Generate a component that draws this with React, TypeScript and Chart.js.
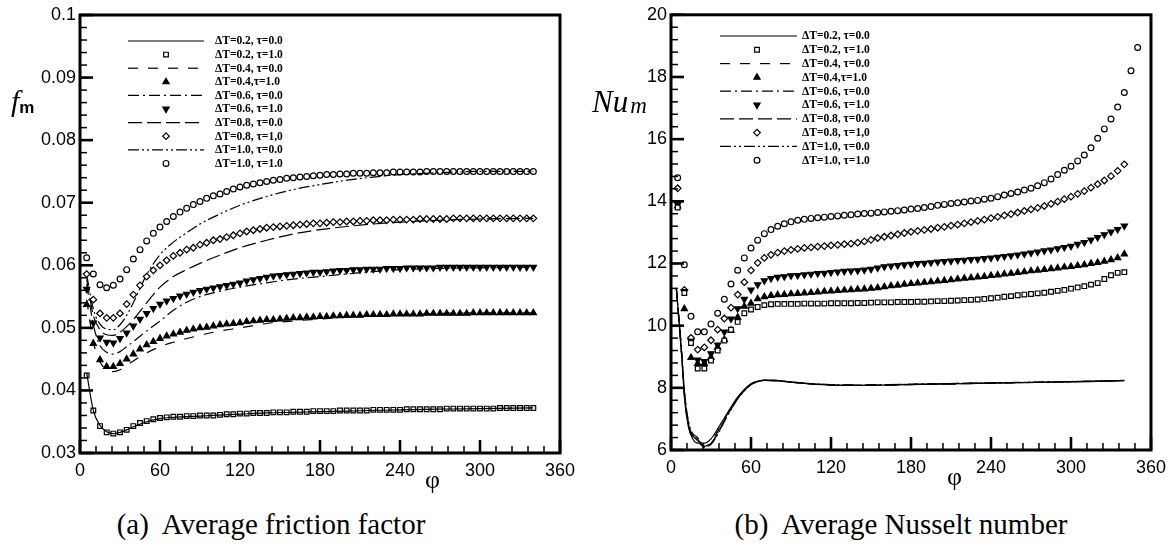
import React, { useEffect, useRef } from 'react';
import { Chart, registerables } from 'chart.js';

Chart.register(...registerables);

// ---------- shared x positions (degrees) ----------
const PHI_MARK = [5, 10, 15, 20, 25, 30, 35, 40, 45, 50, 55, 60, 65, 70, 75, 80, 85, 90, 95, 100, 105, 110, 115, 120, 125, 130, 135, 140, 145, 150, 155, 160, 165, 170, 175, 180, 185, 190, 195, 200, 205, 210, 215, 220, 225, 230, 235, 240, 245, 250, 255, 260, 265, 270, 275, 280, 285, 290, 295, 300, 305, 310, 315, 320, 325, 330, 335, 340];
const PHI_MARK_EXT = [5, 10, 15, 20, 25, 30, 35, 40, 45, 50, 55, 60, 65, 70, 75, 80, 85, 90, 95, 100, 105, 110, 115, 120, 125, 130, 135, 140, 145, 150, 155, 160, 165, 170, 175, 180, 185, 190, 195, 200, 205, 210, 215, 220, 225, 230, 235, 240, 245, 250, 255, 260, 265, 270, 275, 280, 285, 290, 295, 300, 305, 310, 315, 320, 325, 330, 335, 340, 345, 350];
const PHI_LINE_A = [5, 10, 15, 20, 25, 30, 35, 40, 50, 60, 70, 80, 90, 100, 120, 140, 160, 180, 200, 220, 240, 270, 300, 340];
const PHI_LINE_B = [4, 8, 10, 13, 16, 20, 25, 30, 35, 40, 45, 50, 55, 60, 65, 70, 80, 90, 100, 120, 140, 160, 200, 240, 280, 320, 340];

const X_TICKS = [0, 60, 120, 180, 240, 300, 360];
const X_TICK_LABELS = ['0', '60', '120', '180', '240', '300', '360'];
const Y_TICKS_A = [0.03, 0.04, 0.05, 0.06, 0.07, 0.08, 0.09, 0.1];
const Y_TICK_LABELS_A = ['0.03', '0.04', '0.05', '0.06', '0.07', '0.08', '0.09', '0.1'];
const Y_TICKS_B = [6, 8, 10, 12, 14, 16, 18, 20];
const Y_TICK_LABELS_B = ['6', '8', '10', '12', '14', '16', '18', '20'];

const LEGEND_LABELS = [
  'ΔT=0.2, τ=0.0', 'ΔT=0.2, τ=1.0', 'ΔT=0.4, τ=0.0', 'ΔT=0.4,τ=1.0', 'ΔT=0.6, τ=0.0',
  'ΔT=0.6, τ=1.0', 'ΔT=0.8, τ=0.0', 'ΔT=0.8, τ=1,0', 'ΔT=1.0, τ=0.0', 'ΔT=1.0, τ=1.0',
];

// ---------- (a) friction factor: τ=0 lines ----------
const FA_L02 = [0.0428, 0.0368, 0.0344, 0.0334, 0.0331, 0.0333, 0.0337, 0.0342, 0.0350, 0.0355, 0.0357, 0.0358, 0.0359, 0.0360, 0.0362, 0.0364, 0.0365, 0.0366, 0.0367, 0.0368, 0.0369, 0.0370, 0.0371, 0.0372];
const FA_L04 = [0.0545, 0.0478, 0.0446, 0.0433, 0.0430, 0.0433, 0.0440, 0.0447, 0.0460, 0.0470, 0.0477, 0.0483, 0.0488, 0.0493, 0.0500, 0.0507, 0.0511, 0.0514, 0.0517, 0.0519, 0.0521, 0.0523, 0.0524, 0.0524];
const FA_L06 = [0.0570, 0.0505, 0.0472, 0.0461, 0.0458, 0.0462, 0.0470, 0.0478, 0.0495, 0.0511, 0.0528, 0.0541, 0.0550, 0.0556, 0.0565, 0.0572, 0.0578, 0.0582, 0.0586, 0.0590, 0.0593, 0.0595, 0.0596, 0.0597];
const FA_L08 = [0.0578, 0.0520, 0.0497, 0.0489, 0.0488, 0.0493, 0.0502, 0.0513, 0.0540, 0.0565, 0.0582, 0.0593, 0.0603, 0.0612, 0.0628, 0.0640, 0.0650, 0.0657, 0.0662, 0.0666, 0.0669, 0.0672, 0.0674, 0.0675];
const FA_L10 = [0.0585, 0.0530, 0.0506, 0.0498, 0.0497, 0.0505, 0.0520, 0.0540, 0.0585, 0.0617, 0.0637, 0.0652, 0.0666, 0.0677, 0.0696, 0.0710, 0.0721, 0.0729, 0.0736, 0.0741, 0.0745, 0.0748, 0.0750, 0.0750];

// ---------- (a) friction factor: τ=1 markers ----------
const FA_S02 = [
  0.0424, 0.0368, 0.0343, 0.0333, 0.0331, 0.0333, 0.0337, 0.0343, 0.0348, 0.0351,
  0.0354, 0.0356, 0.0357, 0.0358, 0.0358, 0.0359, 0.0359, 0.0360, 0.0360, 0.0360,
  0.0361, 0.0362, 0.0362, 0.0363, 0.0363, 0.0364, 0.0364, 0.0364, 0.0365, 0.0365,
  0.0365, 0.0366, 0.0366, 0.0366, 0.0367, 0.0367, 0.0367, 0.0367, 0.0368, 0.0368,
  0.0368, 0.0368, 0.0368, 0.0369, 0.0369, 0.0369, 0.0369, 0.0369, 0.0370, 0.0370,
  0.0370, 0.0370, 0.0370, 0.0370, 0.0371, 0.0371, 0.0371, 0.0371, 0.0371, 0.0371,
  0.0371, 0.0371, 0.0372, 0.0372, 0.0372, 0.0372, 0.0372, 0.0372,
];
const FA_T04 = [
  0.0537, 0.0475, 0.0449, 0.0438, 0.0438, 0.0443, 0.0450, 0.0458, 0.0466, 0.0473,
  0.0478, 0.0483, 0.0487, 0.0490, 0.0493, 0.0496, 0.0498, 0.0500, 0.0501, 0.0503,
  0.0505, 0.0506, 0.0507, 0.0508, 0.0510, 0.0511, 0.0512, 0.0513, 0.0513, 0.0514,
  0.0515, 0.0516, 0.0516, 0.0517, 0.0517, 0.0518, 0.0518, 0.0519, 0.0519, 0.0520,
  0.0520, 0.0520, 0.0521, 0.0521, 0.0521, 0.0521, 0.0522, 0.0522, 0.0522, 0.0522,
  0.0522, 0.0523, 0.0523, 0.0523, 0.0523, 0.0523, 0.0523, 0.0523, 0.0524, 0.0524,
  0.0524, 0.0524, 0.0524, 0.0524, 0.0524, 0.0524, 0.0524, 0.0524,
];
const FA_T06 = [
  0.0562, 0.0508, 0.0484, 0.0477, 0.0476, 0.0483, 0.0492, 0.0503, 0.0514, 0.0523,
  0.0531, 0.0538, 0.0543, 0.0547, 0.0551, 0.0554, 0.0557, 0.0560, 0.0562, 0.0564,
  0.0566, 0.0568, 0.0570, 0.0572, 0.0575, 0.0577, 0.0579, 0.0581, 0.0583, 0.0584,
  0.0585, 0.0586, 0.0587, 0.0588, 0.0589, 0.0589, 0.0590, 0.0591, 0.0592, 0.0592,
  0.0593, 0.0593, 0.0594, 0.0594, 0.0594, 0.0595, 0.0595, 0.0595, 0.0596, 0.0596,
  0.0596, 0.0596, 0.0596, 0.0597, 0.0597, 0.0597, 0.0597, 0.0597, 0.0597, 0.0597,
  0.0597, 0.0597, 0.0597, 0.0597, 0.0597, 0.0597, 0.0597, 0.0597,
];
const FA_D08 = [
  0.0586, 0.0545, 0.0523, 0.0516, 0.0516, 0.0523, 0.0538, 0.0553, 0.0568, 0.0582,
  0.0592, 0.0600, 0.0608, 0.0615, 0.0620, 0.0625, 0.0628, 0.0633, 0.0636, 0.0640,
  0.0642, 0.0645, 0.0648, 0.0651, 0.0654, 0.0656, 0.0658, 0.0660, 0.0661, 0.0662,
  0.0663, 0.0664, 0.0665, 0.0666, 0.0667, 0.0667, 0.0668, 0.0669, 0.0669, 0.0670,
  0.0670, 0.0671, 0.0671, 0.0672, 0.0672, 0.0672, 0.0673, 0.0673, 0.0673, 0.0673,
  0.0674, 0.0674, 0.0674, 0.0674, 0.0674, 0.0675, 0.0675, 0.0675, 0.0675, 0.0675,
  0.0675, 0.0675, 0.0675, 0.0675, 0.0675, 0.0675, 0.0675, 0.0675,
];
const FA_C10 = [
  0.0612, 0.0586, 0.0569, 0.0564, 0.0568, 0.0578, 0.0593, 0.0610, 0.0625, 0.0639,
  0.0651, 0.0661, 0.0670, 0.0678, 0.0685, 0.0691, 0.0697, 0.0702, 0.0707, 0.0711,
  0.0714, 0.0718, 0.0722, 0.0725, 0.0728, 0.0730, 0.0732, 0.0734, 0.0736, 0.0737,
  0.0739, 0.0740, 0.0741, 0.0742, 0.0743, 0.0744, 0.0745, 0.0745, 0.0746, 0.0746,
  0.0747, 0.0747, 0.0747, 0.0748, 0.0748, 0.0748, 0.0749, 0.0749, 0.0749, 0.0749,
  0.0749, 0.0750, 0.0750, 0.0750, 0.0750, 0.0750, 0.0750, 0.0750, 0.0750, 0.0750,
  0.0750, 0.0750, 0.0750, 0.0750, 0.0750, 0.0750, 0.0750, 0.0750,
];

// ---------- (b) Nusselt number: τ=0 lines ----------
const NU_L02 = [11.2, 9.1, 7.7, 6.75, 6.38, 6.22, 6.22, 6.36, 6.68, 7.03, 7.38, 7.70, 7.95, 8.13, 8.22, 8.24, 8.22, 8.18, 8.14, 8.09, 8.08, 8.09, 8.12, 8.15, 8.18, 8.21, 8.23];
const NU_L04 = [11.2, 9.0, 7.8, 6.80, 6.45, 6.25, 6.12, 6.25, 6.60, 6.98, 7.35, 7.68, 7.93, 8.12, 8.21, 8.24, 8.23, 8.19, 8.14, 8.10, 8.08, 8.09, 8.12, 8.15, 8.18, 8.21, 8.23];
const NU_L06 = [11.2, 9.2, 7.95, 6.90, 6.50, 6.30, 6.15, 6.22, 6.55, 6.95, 7.33, 7.66, 7.92, 8.11, 8.21, 8.25, 8.23, 8.19, 8.15, 8.10, 8.09, 8.10, 8.13, 8.16, 8.18, 8.21, 8.23];
const NU_L08 = [11.2, 9.1, 7.85, 6.85, 6.48, 6.35, 6.08, 6.20, 6.52, 6.93, 7.31, 7.65, 7.91, 8.10, 8.20, 8.24, 8.23, 8.18, 8.14, 8.09, 8.08, 8.09, 8.12, 8.15, 8.18, 8.22, 8.24];
const NU_L10 = [11.2, 9.0, 7.9, 6.95, 6.55, 6.40, 6.10, 6.18, 6.50, 6.92, 7.30, 7.64, 7.90, 8.10, 8.20, 8.25, 8.24, 8.19, 8.15, 8.10, 8.09, 8.10, 8.13, 8.16, 8.19, 8.22, 8.24];

// ---------- (b) Nusselt number: τ=1 markers ----------
const NU_S02 = [
  13.80, 11.05, 9.44, 8.62, 8.62, 8.88, 9.20, 9.52, 9.87, 10.12,
  10.40, 10.52, 10.60, 10.66, 10.69, 10.70, 10.70, 10.70, 10.70, 10.71,
  10.71, 10.71, 10.71, 10.72, 10.72, 10.72, 10.72, 10.73, 10.73, 10.74,
  10.75, 10.75, 10.75, 10.76, 10.76, 10.76, 10.77, 10.77, 10.78, 10.79,
  10.79, 10.80, 10.81, 10.82, 10.83, 10.84, 10.86, 10.88, 10.90, 10.93,
  10.95, 10.98, 11.00, 11.02, 11.04, 11.06, 11.09, 11.12, 11.15, 11.19,
  11.23, 11.27, 11.32, 11.37, 11.50, 11.62, 11.70, 11.72,
];
const NU_T04 = [
  13.85, 10.54, 8.97, 8.78, 8.78, 8.98, 9.30, 9.55, 9.85, 10.27,
  10.62, 10.72, 10.86, 10.93, 10.97, 10.99, 11.00, 11.02, 11.03, 11.05,
  11.06, 11.08, 11.10, 11.11, 11.13, 11.14, 11.15, 11.17, 11.18, 11.20,
  11.22, 11.25, 11.28, 11.30, 11.33, 11.35, 11.37, 11.39, 11.41, 11.43,
  11.45, 11.47, 11.50, 11.52, 11.54, 11.56, 11.58, 11.61, 11.63, 11.66,
  11.68, 11.71, 11.73, 11.76, 11.78, 11.80, 11.83, 11.85, 11.88, 11.90,
  11.93, 11.96, 12.00, 12.03, 12.07, 12.12, 12.18, 12.30,
];
const NU_T06 = [
  13.90, 11.10, 9.50, 8.90, 8.85, 9.10, 9.38, 9.80, 10.22, 10.55,
  10.85, 11.15, 11.32, 11.45, 11.52, 11.56, 11.58, 11.61, 11.62, 11.64,
  11.66, 11.68, 11.69, 11.71, 11.73, 11.75, 11.76, 11.77, 11.79, 11.82,
  11.86, 11.90, 11.92, 11.94, 11.96, 11.98, 12.00, 12.01, 12.03, 12.05,
  12.07, 12.08, 12.10, 12.11, 12.13, 12.14, 12.16, 12.18, 12.20, 12.23,
  12.25, 12.28, 12.31, 12.34, 12.37, 12.41, 12.44, 12.48, 12.52, 12.56,
  12.62, 12.68, 12.76, 12.84, 12.93, 13.02, 13.10, 13.21,
];
const NU_D08 = [
  14.42, 11.15, 9.61, 9.23, 9.30, 9.53, 9.87, 10.23, 10.58, 11.00,
  11.40, 11.78, 12.02, 12.18, 12.28, 12.35, 12.40, 12.44, 12.47, 12.50,
  12.52, 12.54, 12.56, 12.58, 12.60, 12.62, 12.64, 12.67, 12.71, 12.76,
  12.82, 12.86, 12.90, 12.94, 12.98, 13.02, 13.05, 13.08, 13.11, 13.15,
  13.18, 13.22, 13.25, 13.29, 13.33, 13.37, 13.41, 13.46, 13.50, 13.55,
  13.59, 13.64, 13.69, 13.74, 13.79, 13.85, 13.92, 13.99, 14.07, 14.15,
  14.24, 14.33, 14.44, 14.55, 14.67, 14.81, 14.98, 15.19,
];
const NU_C10 = [
  14.76, 11.96, 10.30, 9.80, 9.80, 10.05, 10.40, 10.85, 11.34, 11.78,
  12.18, 12.50, 12.75, 12.96, 13.09, 13.20, 13.28, 13.34, 13.39, 13.42,
  13.45, 13.47, 13.49, 13.51, 13.53, 13.55, 13.57, 13.59, 13.61, 13.62,
  13.64, 13.66, 13.68, 13.70, 13.72, 13.75, 13.77, 13.80, 13.83, 13.87,
  13.90, 13.93, 13.95, 13.98, 14.01, 14.03, 14.07, 14.10, 14.15, 14.20,
  14.25, 14.30, 14.36, 14.42, 14.50, 14.60, 14.72, 14.86, 15.00, 15.13,
  15.30, 15.49, 15.72, 16.03, 16.33, 16.65, 17.03, 17.50, 18.20, 18.95,
];

// ---------- helpers ----------
const pts = (xs: number[], ys: number[]) => ys.map((y, i) => ({ x: xs[i], y }));

function lineDs(label: string, xs: number[], ys: number[], dash: number[]) {
  return {
    label,
    data: pts(xs, ys),
    showLine: true,
    borderColor: '#000',
    borderWidth: 1.2,
    borderDash: dash,
    pointRadius: 0,
    pointHoverRadius: 0,
    tension: 0.4,
    cubicInterpolationMode: 'monotone',
    fill: false,
  };
}

function markDs(label: string, xs: number[], ys: number[], style: string, radius: number, filled: boolean, rotation = 0) {
  return {
    label,
    data: pts(xs, ys),
    showLine: false,
    pointStyle: style,
    pointRadius: radius,
    pointRotation: rotation,
    pointBorderWidth: 1.2,
    pointBorderColor: '#000',
    pointBackgroundColor: filled ? '#000' : '#fff',
    borderColor: '#000',
    backgroundColor: filled ? '#000' : '#fff',
  };
}

const DASH_04 = [10, 10];
const DASH_06 = [11, 4, 2, 4];
const DASH_08 = [14, 5];
const DASH_10 = [11, 3, 2, 3, 2, 3];

function buildSets(lx: number[], l02: number[], l04: number[], l06: number[], l08: number[], l10: number[],
  s02: number[], t04: number[], t06: number[], d08: number[], c10: number[], cx: number[]) {
  return [
    lineDs(LEGEND_LABELS[0], lx, l02, []),
    markDs(LEGEND_LABELS[1], PHI_MARK, s02, 'rect', 3.3, false),
    lineDs(LEGEND_LABELS[2], lx, l04, DASH_04),
    markDs(LEGEND_LABELS[3], PHI_MARK, t04, 'triangle', 3.6, true),
    lineDs(LEGEND_LABELS[4], lx, l06, DASH_06),
    markDs(LEGEND_LABELS[5], PHI_MARK, t06, 'triangle', 3.6, true, 180),
    lineDs(LEGEND_LABELS[6], lx, l08, DASH_08),
    markDs(LEGEND_LABELS[7], PHI_MARK, d08, 'rectRot', 3.3, false),
    lineDs(LEGEND_LABELS[8], lx, l10, DASH_10),
    markDs(LEGEND_LABELS[9], cx, c10, 'circle', 2.9, false),
  ];
}

function drawMarker(ctx: CanvasRenderingContext2D, style: string, x: number, y: number, r: number, rotDeg: number, fill: string, bw: number) {
  ctx.beginPath();
  if (style === 'circle') {
    ctx.arc(x, y, r, 0, Math.PI * 2);
  } else if (style === 'rect') {
    const s = r * Math.SQRT1_2;
    ctx.rect(x - s, y - s, 2 * s, 2 * s);
  } else if (style === 'rectRot') {
    ctx.moveTo(x - r, y);
    ctx.lineTo(x, y - r);
    ctx.lineTo(x + r, y);
    ctx.lineTo(x, y + r);
    ctx.closePath();
  } else {
    let rad = (rotDeg * Math.PI) / 180;
    ctx.moveTo(x + Math.sin(rad) * r, y - Math.cos(rad) * r);
    rad += (2 * Math.PI) / 3;
    ctx.lineTo(x + Math.sin(rad) * r, y - Math.cos(rad) * r);
    rad += (2 * Math.PI) / 3;
    ctx.lineTo(x + Math.sin(rad) * r, y - Math.cos(rad) * r);
    ctx.closePath();
  }
  ctx.fillStyle = fill;
  ctx.fill();
  ctx.lineWidth = bw;
  ctx.strokeStyle = '#000';
  ctx.stroke();
}

const legendPlugin = {
  id: 'paperLegend',
  afterDraw(chart: any, _args: any, opts: any) {
    const ctx: CanvasRenderingContext2D = chart.ctx;
    chart.data.datasets.forEach((ds: any, i: number) => {
      const y = opts.rowY0 + i * opts.rowDy;
      ctx.save();
      if (ds.showLine) {
        ctx.strokeStyle = '#000';
        ctx.lineWidth = ds.borderWidth;
        ctx.setLineDash(ds.borderDash || []);
        ctx.beginPath();
        ctx.moveTo(opts.lineX0, y);
        ctx.lineTo(opts.lineX1, y);
        ctx.stroke();
        ctx.setLineDash([]);
      } else {
        drawMarker(ctx, ds.pointStyle, opts.markX, y, ds.pointRadius, ds.pointRotation || 0, ds.pointBackgroundColor, ds.pointBorderWidth);
      }
      ctx.fillStyle = '#000';
      ctx.font = 'bold 11.5px "Liberation Serif", "DejaVu Serif", serif';
      ctx.textAlign = 'left';
      ctx.textBaseline = 'middle';
      ctx.fillText(ds.label, opts.textX, y + 0.5);
      ctx.restore();
    });
  },
};

const framePlugin = {
  id: 'paperFrame',
  afterDatasetsDraw(chart: any, _args: any, opts: any) {
    const { left, right, top, bottom } = chart.chartArea;
    const ctx: CanvasRenderingContext2D = chart.ctx;
    const xs = chart.scales.x;
    const ys = chart.scales.y;
    const seg = (x0: number, y0: number, x1: number, y1: number) => {
      ctx.beginPath();
      ctx.moveTo(x0, y0);
      ctx.lineTo(x1, y1);
      ctx.stroke();
    };
    ctx.save();
    ctx.strokeStyle = '#000';
    ctx.lineWidth = 1.5;
    for (let v = xs.min; v <= xs.max + 1e-9; v += opts.xMinor) {
      const p = xs.getPixelForValue(v);
      seg(p, bottom, p, bottom - 7);
    }
    for (let v = ys.min; v <= ys.max + 1e-9; v += opts.yMinor) {
      const p = ys.getPixelForValue(v);
      seg(left, p, left + 7, p);
    }
    ctx.lineWidth = 2.6;
    X_TICKS.forEach((v) => {
      const p = xs.getPixelForValue(v);
      seg(p, bottom, p, bottom - 13);
    });
    opts.yMajor.forEach((v: number) => {
      const p = ys.getPixelForValue(v);
      seg(left, p, left + 13, p);
    });
    ctx.lineWidth = 3;
    ctx.strokeRect(left, top, right - left, bottom - top);
    ctx.restore();
  },
};

function makeConfig(datasets: any[], yMin: number, yMax: number, yTicks: number[], yLabels: string[],
  yWidth: number, xHeight: number, padding: any, legend: any, yMinor: number) {
  const tickFont = { family: '"Liberation Sans", Arial, sans-serif', size: 18 };
  return {
    type: 'scatter',
    data: { datasets },
    plugins: [framePlugin, legendPlugin],
    options: {
      animation: false,
      responsive: false,
      devicePixelRatio: 1,
      layout: { padding },
      events: [],
      plugins: {
        legend: { display: false },
        tooltip: { enabled: false },
        paperLegend: legend,
        paperFrame: { xMinor: 12, yMinor, yMajor: yTicks },
      },
      scales: {
        x: {
          type: 'linear',
          min: 0,
          max: 360,
          grid: { display: false, drawTicks: false },
          border: { display: false },
          afterBuildTicks: (s: any) => { s.ticks = X_TICKS.map((v) => ({ value: v })); },
          afterFit: (s: any) => { s.height = xHeight; },
          ticks: {
            color: '#000',
            font: tickFont,
            padding: 7,
            maxRotation: 0,
            autoSkip: false,
            callback: (_v: any, i: number) => X_TICK_LABELS[i],
          },
        },
        y: {
          type: 'linear',
          min: yMin,
          max: yMax,
          grid: { display: false, drawTicks: false },
          border: { display: false },
          afterBuildTicks: (s: any) => { s.ticks = yTicks.map((v) => ({ value: v })); },
          afterFit: (s: any) => { s.width = yWidth; },
          ticks: {
            color: '#000',
            font: tickFont,
            padding: 4,
            autoSkip: false,
            callback: (_v: any, i: number) => yLabels[i],
          },
        },
      },
    },
  };
}

const serif = '"Liberation Serif", "Times New Roman", serif';

export default function App() {
  const refA = useRef<HTMLCanvasElement>(null);
  const refB = useRef<HTMLCanvasElement>(null);

  useEffect(() => {
    document.body.style.margin = '0';
    document.body.style.background = '#fff';
    const setsA = buildSets(PHI_LINE_A, FA_L02, FA_L04, FA_L06, FA_L08, FA_L10, FA_S02, FA_T04, FA_T06, FA_D08, FA_C10, PHI_MARK);
    const setsB = buildSets(PHI_LINE_B, NU_L02, NU_L04, NU_L06, NU_L08, NU_L10, NU_S02, NU_T04, NU_T06, NU_D08, NU_C10, PHI_MARK_EXT);
    const chartA = new Chart(refA.current as HTMLCanvasElement, makeConfig(
      setsA, 0.03, 0.1, Y_TICKS_A, Y_TICK_LABELS_A, 80, 37,
      { left: 0, right: 30, top: 15, bottom: 0 },
      { lineX0: 128, lineX1: 204, markX: 166, textX: 215, rowY0: 41, rowDy: 13.6 },
      0.002,
    ) as any);
    const chartB = new Chart(refB.current as HTMLCanvasElement, makeConfig(
      setsB, 6, 20, Y_TICKS_B, Y_TICK_LABELS_B, 81, 40,
      { left: 0, right: 19, top: 13, bottom: 0 },
      { lineX0: 130, lineX1: 207, markX: 167, textX: 212, rowY0: 36, rowDy: 13.8 },
      0.4,
    ) as any);
    return () => {
      chartA.destroy();
      chartB.destroy();
    };
  }, []);

  const abs = (style: React.CSSProperties): React.CSSProperties => ({ position: 'absolute', lineHeight: 1, whiteSpace: 'nowrap', color: '#000', ...style });

  return (
    <div style={{ position: 'relative', width: 1173, height: 552, background: '#fff', overflow: 'hidden' }}>
      <canvas ref={refA} width={590} height={490} style={{ position: 'absolute', left: 0, top: 0, width: 590, height: 490 }} />
      <canvas ref={refB} width={583} height={490} style={{ position: 'absolute', left: 590, top: 0, width: 583, height: 490 }} />

      {/* axis titles */}
      <div style={abs({ left: 11, top: 86, fontFamily: serif, fontStyle: 'italic', fontSize: 30 })}>
        f<span style={{ fontFamily: '"Liberation Sans", Arial, sans-serif', fontStyle: 'normal', fontWeight: 'bold', fontSize: 17, position: 'relative', top: 2 }}>m</span>
      </div>
      <div style={abs({ left: 592, top: 86, fontFamily: serif, fontStyle: 'italic', fontSize: 31 })}>
        Nu<span style={{ fontSize: 23, position: 'relative', top: 1, marginLeft: 2 }}>m</span>
      </div>
      <div style={abs({ left: 425, top: 467, fontFamily: serif, fontSize: 26 })}>φ</div>
      <div style={abs({ left: 947, top: 464, fontFamily: serif, fontSize: 26 })}>φ</div>

      {/* captions */}
      <div style={abs({ left: 271, top: 510, transform: 'translateX(-50%)', fontFamily: serif, fontSize: 29 })}>
        (a)&nbsp; Average friction factor
      </div>
      <div style={abs({ left: 901, top: 510, transform: 'translateX(-50%)', fontFamily: serif, fontSize: 29 })}>
        (b)&nbsp; Average Nusselt number
      </div>
    </div>
  );
}
